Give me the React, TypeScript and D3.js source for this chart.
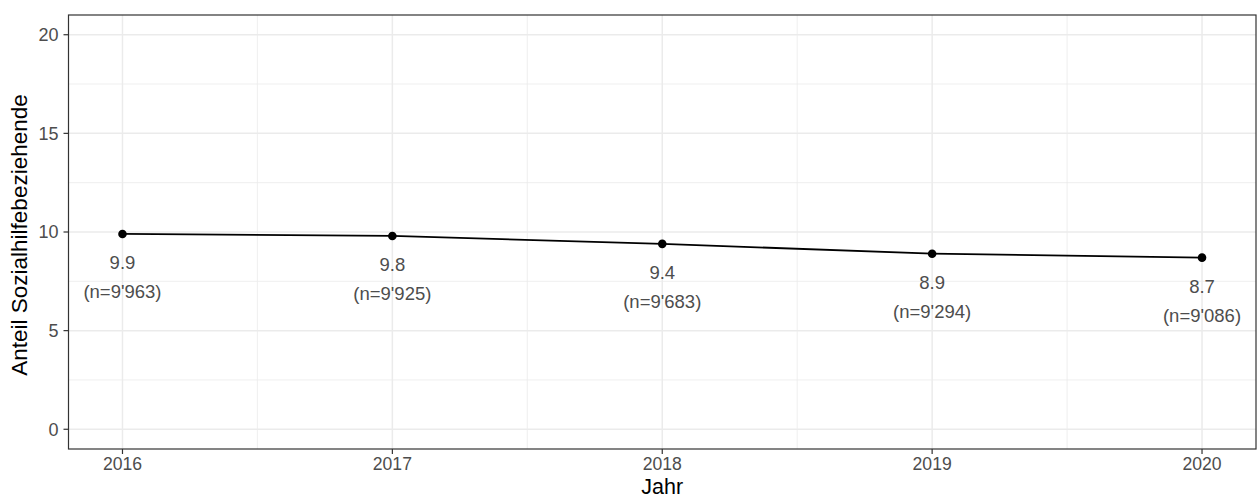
import React from "react";
import * as d3 from "d3";

const years = [2016, 2017, 2018, 2019, 2020];
const values = [9.9, 9.8, 9.4, 8.9, 8.7];
const counts = ["9'963", "9'925", "9'683", "9'294", "9'086"];
const yTicks = [0, 5, 10, 15, 20];
const yMinor = [2.5, 7.5, 12.5, 17.5];
const xMinor = [2016.5, 2017.5, 2018.5, 2019.5];

const W = 1260;
const H = 498;
const left = 68.5;
const right = 1256;
const top = 15;
const bottom = 449;
const font = "'Liberation Sans', Arial, Helvetica, sans-serif";

export default function App() {
  const x = d3.scaleLinear().domain([2016 - 0.2, 2020 + 0.2]).range([left, right]);
  const y = d3.scaleLinear().domain([-1, 21]).range([bottom, top]);
  const line = d3
    .line<number>()
    .x((_, i) => x(years[i]))
    .y((d) => y(d));

  return (
    <svg
      width={W}
      height={H}
      style={{ position: "absolute", left: 0, top: 0, background: "#fff" }}
      fontFamily={font}
    >
      <rect x={left} y={top} width={right - left} height={bottom - top} fill="#fff" />
      {yMinor.map((v) => (
        <line key={"ym" + v} x1={left} x2={right} y1={y(v)} y2={y(v)} stroke="#EBEBEB" strokeWidth={0.8} />
      ))}
      {xMinor.map((v) => (
        <line key={"xm" + v} x1={x(v)} x2={x(v)} y1={top} y2={bottom} stroke="#EBEBEB" strokeWidth={0.8} />
      ))}
      {yTicks.map((v) => (
        <line key={"yg" + v} x1={left} x2={right} y1={y(v)} y2={y(v)} stroke="#EBEBEB" strokeWidth={1.5} />
      ))}
      {years.map((v) => (
        <line key={"xg" + v} x1={x(v)} x2={x(v)} y1={top} y2={bottom} stroke="#EBEBEB" strokeWidth={1.5} />
      ))}
      <path d={line(values) || ""} fill="none" stroke="#000" strokeWidth={1.8} />
      {values.map((v, i) => (
        <circle key={"p" + i} cx={x(years[i])} cy={y(v)} r={4.3} fill="#000" />
      ))}
      {values.map((v, i) => (
        <g key={"l" + i} fill="#4D4D4D" fontSize={18.5} textAnchor="middle">
          <text x={x(years[i])} y={y(v) + 35}>{v.toFixed(1)}</text>
          <text x={x(years[i])} y={y(v) + 64}>{`(n=${counts[i]})`}</text>
        </g>
      ))}
      <rect x={left} y={top} width={right - left} height={bottom - top} fill="none" stroke="#333" strokeWidth={1.2} />
      {yTicks.map((v) => (
        <g key={"yt" + v}>
          <line x1={left - 5} x2={left} y1={y(v)} y2={y(v)} stroke="#333" strokeWidth={1.2} />
          <text x={left - 10} y={y(v)} dy="0.35em" textAnchor="end" fontSize={18} fill="#4D4D4D">
            {v}
          </text>
        </g>
      ))}
      {years.map((v) => (
        <g key={"xt" + v}>
          <line x1={x(v)} x2={x(v)} y1={bottom} y2={bottom + 5} stroke="#333" strokeWidth={1.2} />
          <text x={x(v)} y={470} textAnchor="middle" fontSize={17.6} fill="#4D4D4D">
            {v}
          </text>
        </g>
      ))}
      <text x={(left + right) / 2} y={494} textAnchor="middle" fontSize={21.5} fill="#000">
        Jahr
      </text>
      <text
        transform={`translate(27,${(top + bottom) / 2 + 3}) rotate(-90)`}
        textAnchor="middle"
        fontSize={22.5}
        fill="#000"
      >
        Anteil Sozialhilfebeziehende
      </text>
    </svg>
  );
}
